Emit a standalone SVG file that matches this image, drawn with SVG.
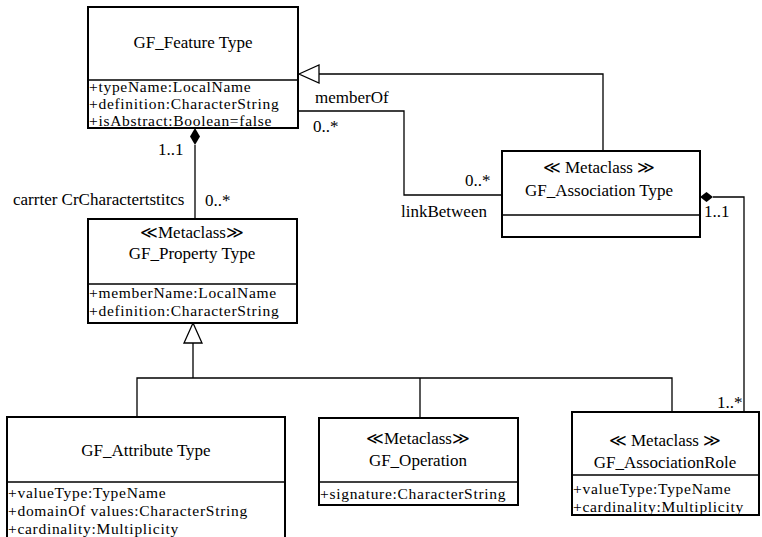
<svg xmlns="http://www.w3.org/2000/svg" width="762" height="537" viewBox="0 0 762 537">
<style>
.box{fill:#fff;stroke:#000;stroke-width:2}
.div{stroke:#000;stroke-width:1.6}
.ln{fill:none;stroke:#000;stroke-width:1.3}
text{font-family:"Liberation Serif",serif;font-size:17px;fill:#000}
.c{text-anchor:middle}
.a{font-size:15.5px;letter-spacing:0.7px}
</style>
<rect width="762" height="537" fill="#fff"/>
<g id="connectors">
  <path class="ln" d="M603,151 V74 H319"/>
  <polygon points="299,74 319,65 319,83" fill="#fff" stroke="#000" stroke-width="1.3"/>
  <path class="ln" d="M298,111 H404 V195 H502"/>
  <path class="ln" d="M195,145 V219"/>
  <polygon points="195,128 200,136.5 195,145 190,136.5" fill="#000"/>
  <path class="ln" d="M193,343 V378 M137,417 V378 H672 V412 M420,378 V418"/>
  <polygon points="193,323 202,343 184,343" fill="#fff" stroke="#000" stroke-width="1.3"/>
  <path class="ln" d="M713,197 H744 V412"/>
  <polygon points="700,197 706.5,192 713,197 706.5,202" fill="#000"/>
  <text x="315" y="103">memberOf</text>
  <text x="313" y="132">0..*</text>
  <text x="465" y="186">0..*</text>
  <text x="401" y="217">linkBetween</text>
  <text x="158" y="155">1..1</text>
  <text x="13" y="205">carrter CrCharactertstitcs</text>
  <text x="205" y="206">0..*</text>
  <text x="704" y="217">1..1</text>
  <text x="717" y="408">1..*</text>
</g>
<g id="GF_FeatureType">
  <rect class="box" x="88" y="7" width="210" height="121"/>
  <line class="div" x1="88" y1="80" x2="298" y2="80"/>
  <text class="c" x="193" y="48">GF_Feature Type</text>
  <text class="a" x="89" y="92">+typeName:LocalName</text>
  <text class="a" x="89" y="109">+definition:CharacterString</text>
  <text class="a" x="89" y="126">+isAbstract:Boolean=false</text>
</g>
<g id="GF_AssociationType">
  <rect class="box" x="502" y="151" width="198" height="86"/>
  <line class="div" x1="502" y1="215" x2="700" y2="215"/>
  <text class="c" x="599" y="173">≪ Metaclass ≫</text>
  <text class="c" x="599" y="196">GF_Association Type</text>
</g>
<g id="GF_PropertyType">
  <rect class="box" x="88" y="219" width="209" height="104"/>
  <line class="div" x1="88" y1="284" x2="297" y2="284"/>
  <text class="c" x="192" y="238">≪Metaclass≫</text>
  <text class="c" x="192" y="259">GF_Property Type</text>
  <text class="a" x="89" y="298">+memberName:LocalName</text>
  <text class="a" x="89" y="316">+definition:CharacterString</text>
</g>
<g id="GF_AttributeType">
  <rect class="box" x="7" y="417" width="278" height="125"/>
  <line class="div" x1="7" y1="482" x2="285" y2="482"/>
  <text class="c" x="146" y="456">GF_Attribute Type</text>
  <text class="a" x="8" y="498">+valueType:TypeName</text>
  <text class="a" x="8" y="516">+domainOf values:CharacterString</text>
  <text class="a" x="8" y="534">+cardinality:Multiplicity</text>
</g>
<g id="GF_Operation">
  <rect class="box" x="319" y="418" width="199" height="87"/>
  <line class="div" x1="319" y1="482" x2="518" y2="482"/>
  <text class="c" x="418" y="444">≪Metaclass≫</text>
  <text class="c" x="418" y="466">GF_Operation</text>
  <text class="a" x="320" y="499">+signature:CharacterString</text>
</g>
<g id="GF_AssociationRole">
  <rect class="box" x="572" y="412" width="187" height="103"/>
  <line class="div" x1="572" y1="475" x2="759" y2="475"/>
  <text class="c" x="665" y="446">≪ Metaclass ≫</text>
  <text class="c" x="665" y="468">GF_AssociationRole</text>
  <text class="a" x="573" y="494">+valueType:TypeName</text>
  <text class="a" x="573" y="512">+cardinality:Multiplicity</text>
</g>
</svg>
